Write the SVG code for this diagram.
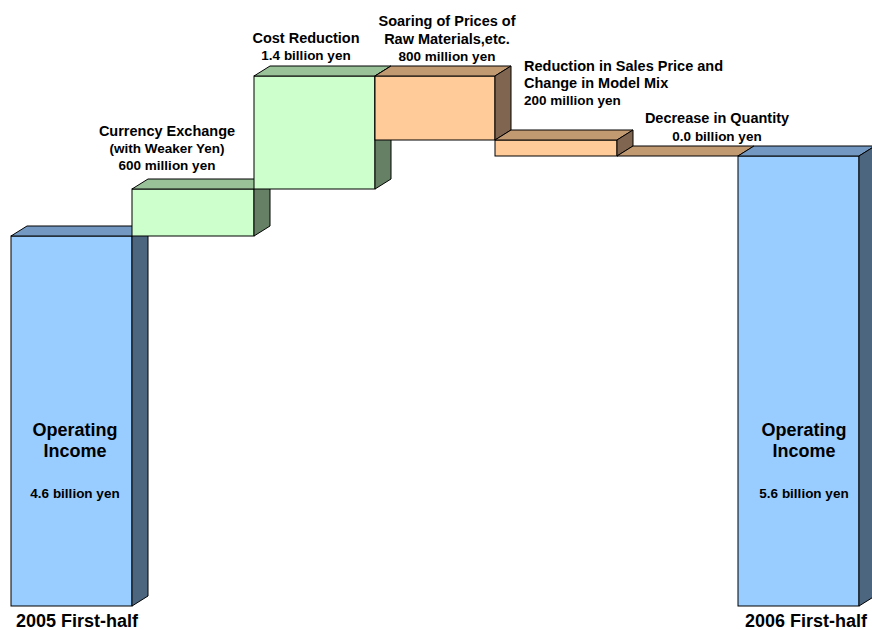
<svg xmlns="http://www.w3.org/2000/svg" width="872" height="630" viewBox="0 0 872 630">
<style>
  .e { stroke: #000; stroke-width: 1; stroke-linejoin: miter; }
  .bf { fill: #99CCFF; } .bt { fill: #7399C2; } .bs { fill: #4D6680; }
  .gf { fill: #CCFFCC; } .gt { fill: #99C299; } .gs { fill: #668066; }
  .of { fill: #FFCC99; } .ot { fill: #C29A72; } .os { fill: #806650; }
  text { font-family: "Liberation Sans", Arial, sans-serif; font-weight: bold; fill: #000; }
  .h { font-size: 14.5px; text-anchor: middle; }
  .a { font-size: 13.5px; text-anchor: middle; }
  .hl { font-size: 14.5px; }
  .al { font-size: 13.5px; }
  .big { font-size: 18px; text-anchor: middle; }
  .cat { font-size: 18px; text-anchor: middle; }
</style>
<rect width="872" height="630" fill="#fff"/>

<g id="base2005">
  <rect class="e bf" x="11" y="236" width="121" height="370"/>
  <polygon class="e bt" points="11,236 27,226 148,226 132,236"/>
  <polygon class="e bs" points="132,236 148,226 148,596 132,606"/>
  <text class="big" x="75" y="436">Operating</text>
  <text class="big" x="75" y="457">Income</text>
  <text class="a" x="75" y="498">4.6 billion yen</text>
  <text class="cat" x="77" y="627">2005 First-half</text>
</g>

<g id="currency">
  <rect class="e gf" x="132" y="189" width="122" height="47"/>
  <polygon class="e gt" points="132,189 148,179 270,179 254,189"/>
  <polygon class="e gs" points="254,189 270,179 270,226 254,236"/>
  <text class="h" x="167" y="136">Currency Exchange</text>
  <text class="a" x="167" y="153">(with Weaker Yen)</text>
  <text class="a" x="167" y="170">600 million yen</text>
</g>

<g id="cost">
  <rect class="e gf" x="254" y="76" width="121" height="113"/>
  <polygon class="e gt" points="254,76 270,66 391,66 375,76"/>
  <polygon class="e gs" points="375,76 391,66 391,179 375,189"/>
  <text class="h" x="306" y="43">Cost Reduction</text>
  <text class="a" x="306" y="60">1.4 billion yen</text>
</g>

<g id="rawmaterials">
  <rect class="e of" x="375" y="76" width="120" height="64"/>
  <polygon class="e ot" points="375,76 391,66 511,66 495,76"/>
  <polygon class="e os" points="495,76 511,66 511,130 495,140"/>
  <text class="h" x="447" y="26">Soaring of Prices of</text>
  <text class="h" x="447" y="44">Raw Materials,etc.</text>
  <text class="a" x="447" y="61">800 million yen</text>
</g>

<g id="salesprice">
  <rect class="e of" x="495" y="140" width="122" height="16"/>
  <polygon class="e ot" points="495,140 511,130 633,130 617,140"/>
  <polygon class="e os" points="617,140 633,130 633,146 617,156"/>
  <text class="hl" x="524" y="70.5">Reduction in Sales Price and</text>
  <text class="hl" x="524" y="87.5">Change in Model Mix</text>
  <text class="al" x="524" y="104.5">200 million yen</text>
</g>

<g id="quantity">
  <polygon class="e ot" points="617,156 633,146 754,146 738,156"/>
  <text class="h" x="717" y="122.5">Decrease in Quantity</text>
  <text class="a" x="717" y="140.5">0.0 billion yen</text>
</g>

<g id="base2006">
  <rect class="e bf" x="738" y="156" width="121" height="450"/>
  <polygon class="e bt" points="738,156 754,146 875,146 859,156"/>
  <polygon class="e bs" points="859,156 875,146 875,596 859,606"/>
  <text class="big" x="804" y="436">Operating</text>
  <text class="big" x="804" y="457">Income</text>
  <text class="a" x="804" y="498">5.6 billion yen</text>
  <text class="cat" x="806" y="627">2006 First-half</text>
</g>
</svg>
